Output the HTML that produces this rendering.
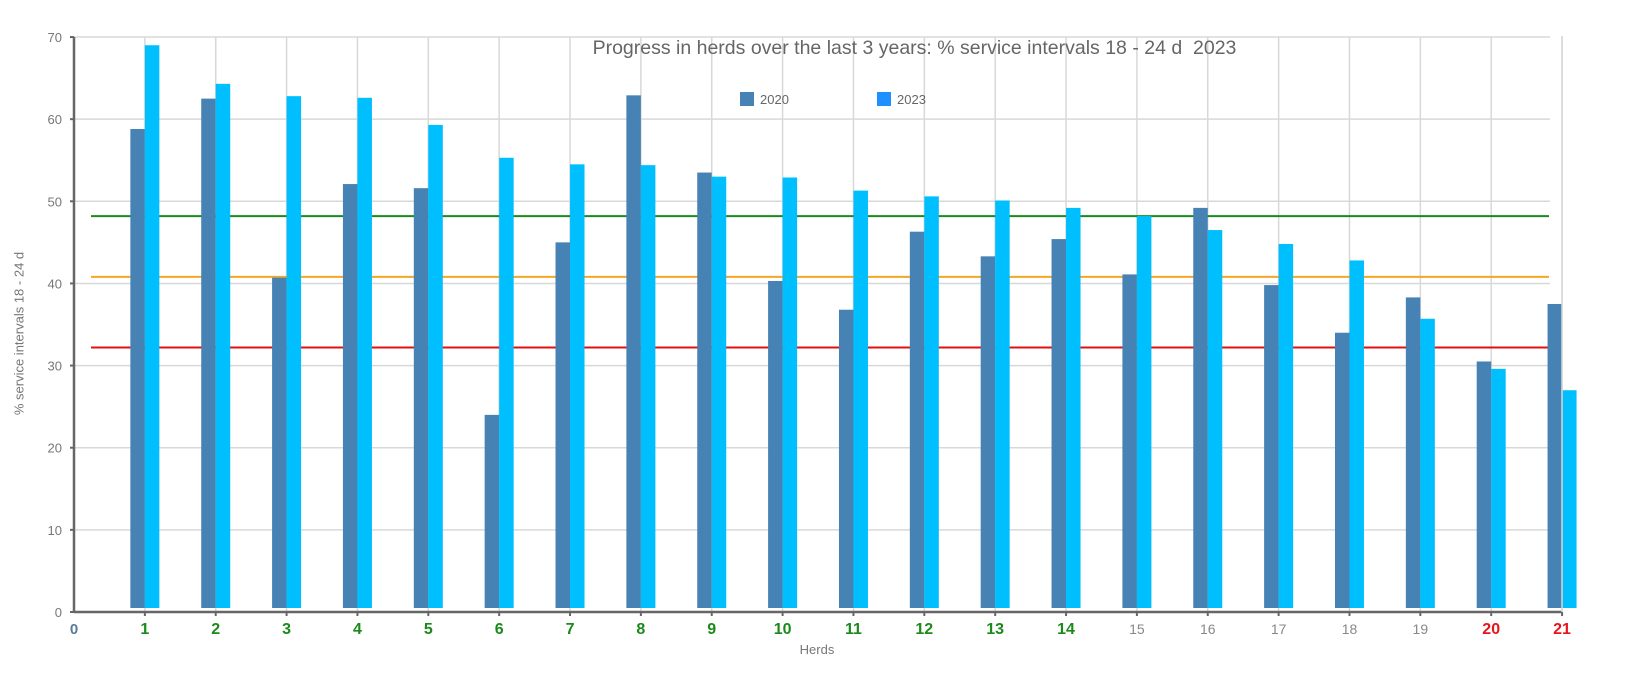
<!DOCTYPE html>
<html><head><meta charset="utf-8"><style>
body{margin:0;background:#fff;width:1638px;height:674px;overflow:hidden;font-family:"Liberation Sans",sans-serif}
</style></head><body>
<svg id="chart" width="1638" height="674" xmlns="http://www.w3.org/2000/svg"></svg>
<script>
const categories=[1,2,3,4,5,6,7,8,9,10,11,12,13,14,15,16,17,18,19,20,21];
const values2020=[58.8,62.5,40.7,52.1,51.6,24.0,45.0,62.9,53.5,40.3,36.8,46.3,43.3,45.4,41.1,49.2,39.8,34.0,38.3,30.5,37.5];
const values2023=[69.0,64.3,62.8,62.6,59.3,55.3,54.5,54.4,53.0,52.9,51.3,50.6,50.1,49.2,48.2,46.5,44.8,42.8,35.7,29.6,27.0];
const labelColors=["green","green","green","green","green","green","green","green","green","green","green","green","green","green","grey","grey","grey","grey","grey","red","red"];
const yTicks=[0,10,20,30,40,50,60,70];
const refLines=[48.2,40.8,32.2];
const refColors=["#1a8a1a","#f5a623","#e01010"];

const NS="http://www.w3.org/2000/svg";
const svg=document.getElementById('chart');
const X0=74,XS=70.86,Y0=612,YS=8.214;
const xs=v=>X0+v*XS, ys=v=>Y0-v*YS;
function el(t,a,p){const e=document.createElementNS(NS,t);for(const k in a)e.setAttribute(k,a[k]);(p||svg).appendChild(e);return e;}

for(const t of yTicks){
  const g=el('line',{x1:X0,x2:1550,y1:ys(t),y2:ys(t),stroke:'#d8d8d8','stroke-width':1.5});
  
  
  const l=el('text',{x:X0-12,y:ys(t)+5,'text-anchor':'end','font-size':13,fill:'#777'});
  l.textContent=t;
  
  
  el('line',{x1:X0-4,x2:X0,y1:ys(t),y2:ys(t),stroke:'#666','stroke-width':2});
}
for(let i=1;i<=21;i++){
  const g=el('line',{x1:xs(i),x2:xs(i),y1:ys(70),y2:Y0,stroke:'#d8d8d8','stroke-width':1.5});
  
  
}
refLines.forEach((v,i)=>{
  const r=el('line',{x1:91,x2:1549,y1:ys(v),y2:ys(v),stroke:refColors[i],'stroke-width':2});
  
  
});
const BW=14.5;
categories.forEach((c,i)=>{
  const b1=el('rect',{x:xs(c)-BW,y:ys(values2020[i]),width:BW,height:values2020[i]*YS-4,fill:'#4682b4'});
  
  
  const b2=el('rect',{x:xs(c),y:ys(values2023[i]),width:BW,height:values2023[i]*YS-4,fill:'#00bfff'});
  
  
  const col={green:'#1a8a1a',grey:'#888',red:'#e8141c'}[labelColors[i]];
  const t=el('text',{x:xs(c),y:634,'text-anchor':'middle','font-size':labelColors[i]=='grey'?14:16,'font-weight':labelColors[i]=='grey'?'normal':'bold',fill:col});
  t.textContent=c;
  
  
  el('line',{x1:xs(c),x2:xs(c),y1:Y0,y2:Y0+4,stroke:'#666','stroke-width':2});
});
el('line',{x1:X0,x2:X0,y1:ys(70),y2:Y0,stroke:'#666','stroke-width':2.5});
el('line',{x1:X0,x2:xs(21),y1:Y0,y2:Y0,stroke:'#666','stroke-width':2.5});
el('line',{x1:1562,x2:1562,y1:36,y2:Y0,stroke:'#d8d8d8','stroke-width':1.5});
const z=el('text',{x:X0,y:634,'text-anchor':'middle','font-size':15,'font-weight':'bold',fill:'#5b7a99'});z.textContent='0';


</script>
<div style="position:absolute;left:586px;top:37px;width:657px;text-align:center;font-size:19.5px;color:#666;white-space:nowrap">Progress in herds over the last 3 years: % service intervals 18 - 24 d&nbsp; 2023</div>
<div style="position:absolute;left:740px;top:92px;font-size:13px;color:#666;white-space:nowrap"><span style="display:inline-block;width:14px;height:14px;background:#4682b4;vertical-align:-2px;margin-right:6px"></span>2020</div>
<div style="position:absolute;left:877px;top:92px;font-size:13px;color:#666;white-space:nowrap"><span style="display:inline-block;width:14px;height:14px;background:#1e90ff;vertical-align:-2px;margin-right:6px"></span>2023</div>
<div style="position:absolute;left:767px;top:642px;width:100px;text-align:center;font-size:13px;color:#777">Herds</div>
<div style="position:absolute;left:-81px;top:326px;width:200px;text-align:center;font-size:13px;color:#777;white-space:nowrap;transform:rotate(-90deg)">% service intervals 18 - 24 d</div>
</body></html>
